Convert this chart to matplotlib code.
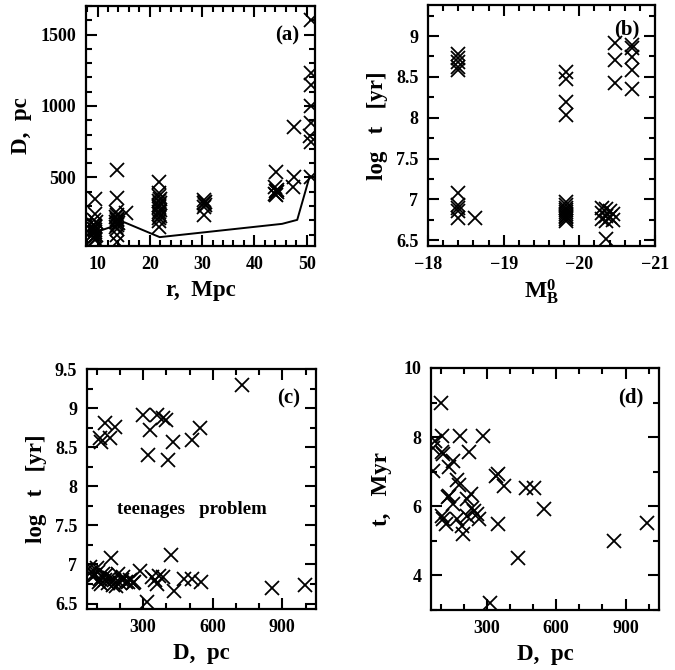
import matplotlib
matplotlib.use("Agg")
import matplotlib.pyplot as plt
from matplotlib.ticker import MultipleLocator

# ---------------- data ----------------
# (a) D [pc] vs r [Mpc]
a_r = [9.5, 9.5, 9.4, 9.7, 9.3, 9.6, 9.5, 9.4, 9.6, 9.5, 9.3, 9.7, 9.5, 9.4, 9.6, 9.5,
       13.7, 13.7, 13.6, 13.8, 13.6, 13.8, 13.7, 13.5, 13.9, 13.7, 13.6, 13.8, 13.7, 13.7,
       15.5,
       21.8, 21.8, 21.7, 21.9, 21.7, 21.9, 21.8, 21.7, 21.9, 21.8, 21.7, 21.9, 21.8, 21.8, 21.8,
       30.4, 30.5, 30.3, 30.5, 30.4, 30.4,
       44.2, 44.0, 44.3, 44.1, 44.3, 44.0, 44.2,
       47.5, 47.6, 47.4,
       50.8, 50.8, 50.8, 50.8, 50.8, 50.7, 50.9, 50.8]
a_D = [350, 245, 200, 185, 170, 160, 150, 140, 130, 120, 110, 100, 90, 80, 70, 60,
       550, 355, 260, 240, 225, 210, 200, 190, 180, 170, 155, 140, 100, 50,
       250,
       465, 390, 370, 350, 335, 320, 305, 290, 275, 260, 245, 230, 215, 195, 150,
       345, 330, 320, 305, 290, 240,
       540, 430, 415, 405, 395, 385, 375,
       850, 500, 430,
       1600, 1230, 1150, 1000, 880, 790, 750, 500]
a_line_r = [8.1, 15.2, 21.9, 45.3, 48.2, 50.6]
a_line_D = [98, 185, 82, 175, 203, 510]

# (b) log t vs M_B^0
b_M = [-18.4, -18.4, -18.4, -18.4, -18.4, -18.4, -18.4, -18.4, -18.4, -18.4, -18.62,
       -19.83, -19.83, -19.83, -19.83, -19.83, -19.83, -19.83, -19.83, -19.83, -19.83,
       -19.83, -19.83, -19.83, -19.83,
       -20.3, -20.35, -20.4, -20.3, -20.45, -20.35, -20.4, -20.3, -20.45, -20.35, -20.35,
       -20.47, -20.47, -20.47, -20.7, -20.7, -20.7, -20.7, -20.7]
b_logt = [8.78, 8.73, 8.68, 8.62, 8.58, 7.08, 6.93, 6.90, 6.86, 6.77, 6.77,
          8.56, 8.47, 8.19, 8.03, 6.97, 6.93, 6.90, 6.87, 6.85, 6.82, 6.80, 6.78, 6.76, 6.73,
          6.90, 6.88, 6.86, 6.83, 6.82, 6.80, 6.78, 6.76, 6.75, 6.73, 6.52,
          8.92, 8.71, 8.42, 8.89, 8.85, 8.74, 8.58, 8.35]

# (c) log t vs D
c_D = [113, 120, 135, 156, 178, 300, 358, 329, 322, 386, 400, 408, 430, 509, 545, 724,
       73, 76, 80, 92, 100, 105, 110, 115, 120, 128, 135, 140, 150, 155, 160, 170, 175,
       185, 190, 200, 210, 215, 225, 235, 245, 255, 262, 286, 317, 340, 350, 358, 370,
       385, 422, 432, 476, 511, 548, 854, 998]
c_logt = [8.62, 8.57, 8.81, 8.62, 8.76, 8.91, 8.91, 8.72, 8.40, 8.87, 8.85, 8.34, 8.57,
          8.59, 8.74, 9.30,
          6.97, 6.90, 6.85, 6.87, 6.95, 6.90, 6.78, 6.82, 6.75, 6.88, 6.80, 6.86, 6.76,
          6.83, 7.08, 6.74, 6.80, 6.72, 6.88, 6.76, 6.80, 6.84, 6.78, 6.77, 6.80, 6.76,
          6.78, 6.92, 6.52, 6.84, 6.80, 6.75, 6.85, 6.84, 7.12, 6.66, 6.81, 6.81, 6.78,
          6.70, 6.74]

# (d) t [Myr] vs D
d_D = [100, 105, 184, 284, 77, 66, 105, 112, 224, 68, 134, 155, 170, 180, 340, 350,
       376, 469, 505, 548, 850, 993, 348, 436, 314, 130, 136, 155, 105, 112, 121, 170,
       198, 191, 215, 230, 236, 243, 257, 264, 215]
d_t = [9.0, 8.04, 8.04, 8.04, 7.9, 7.7, 7.56, 7.51, 7.56, 7.03, 7.13, 7.32, 6.75, 6.62,
       6.88, 6.93, 6.6, 6.52, 6.52, 5.91, 5.0, 5.52, 5.48, 4.5, 3.2, 6.26, 6.3, 6.06,
       5.73, 5.63, 5.5, 5.63, 5.2, 5.44, 6.2, 6.35, 5.96, 5.86, 5.77, 5.63, 5.73]

# ---------------- style ----------------
plt.rcParams['font.family'] = ['Liberation Serif', 'DejaVu Serif']
plt.rcParams['font.weight'] = 'bold'
plt.rcParams['mathtext.fontset'] = 'custom'
plt.rcParams['mathtext.rm'] = 'Liberation Serif:bold'
plt.rcParams['mathtext.bf'] = 'Liberation Serif:bold'
plt.rcParams['mathtext.it'] = 'Liberation Serif:bold'

W, H = 675, 670
fig = plt.figure(figsize=(W / 100, H / 100), dpi=100)

TICK_FS = 13
LAB_FS = 16.5

def add_axes(l, r, t, b):
    return fig.add_axes([l / W, 1 - b / H, (r - l) / W, (b - t) / H])

def style(ax, xmaj, xmin, ymaj, ymin):
    ax.xaxis.set_major_locator(MultipleLocator(xmaj))
    ax.xaxis.set_minor_locator(MultipleLocator(xmin))
    ax.yaxis.set_major_locator(MultipleLocator(ymaj))
    ax.yaxis.set_minor_locator(MultipleLocator(ymin))
    ax.tick_params(which='both', direction='in', top=True, right=True, width=1.5,
                   labelsize=TICK_FS, pad=7)
    ax.tick_params(which='major', length=8)
    ax.tick_params(which='minor', length=4)
    for s in ax.spines.values():
        s.set_linewidth(1.6)

def boldticks(ax):
    for lab in ax.get_xticklabels() + ax.get_yticklabels():
        lab.set_fontweight('bold')

mk = dict(marker='x', linestyle='none', color='black', markersize=10, markeredgewidth=1.3)

# (a)
ax = add_axes(86, 315, 6, 246)
ax.plot(a_r, a_D, **mk)
ax.plot(a_line_r, a_line_D, color='black', linewidth=1.4)
ax.set_xlim(7.8, 51.6)
ax.set_ylim(20, 1700)
style(ax, 10, 2, 500, 100)
boldticks(ax)
ax.set_xlabel('r,  Mpc', fontsize=LAB_FS, fontweight='bold', labelpad=5)
ax.set_ylabel('D,  pc', fontsize=LAB_FS, fontweight='bold', labelpad=6)
ax.text(0.93, 0.92, '(a)', transform=ax.transAxes, ha='right', va='top',
        fontsize=15, fontweight='bold')

# (b)
ax = add_axes(428, 655, 5, 246)
ax.plot(b_M, b_logt, **mk)
ax.set_xlim(-18, -21)
ax.set_ylim(6.43, 9.38)
style(ax, 1, 0.2, 0.5, 0.25)
ax.set_xticks([-18, -19, -20, -21])
ax.set_xticklabels(['\u221218', '\u221219', '\u221220', '\u221221'])
ax.set_yticks([6.5, 7, 7.5, 8, 8.5, 9])
ax.set_yticklabels(['6.5', '7', '7.5', '8', '8.5', '9'])
boldticks(ax)
ax.set_xlabel(r'$\mathrm{M_B^0}$', fontsize=17, labelpad=3)
ax.set_ylabel('log   t   [yr]', fontsize=LAB_FS, fontweight='bold', labelpad=6)
ax.text(0.93, 0.94, '(b)', transform=ax.transAxes, ha='right', va='top',
        fontsize=15, fontweight='bold')

# (c)
ax = add_axes(87, 316, 369, 609)
ax.plot(c_D, c_logt, **mk)
ax.set_xlim(58, 1045)
ax.set_ylim(6.43, 9.5)
style(ax, 300, 100, 0.5, 0.25)
ax.set_yticks([6.5, 7, 7.5, 8, 8.5, 9, 9.5])
ax.set_yticklabels(['6.5', '7', '7.5', '8', '8.5', '9', '9.5'])
boldticks(ax)
ax.set_xlabel('D,  pc', fontsize=LAB_FS, fontweight='bold', labelpad=5)
ax.set_ylabel('log   t   [yr]', fontsize=LAB_FS, fontweight='bold', labelpad=6)
ax.text(0.93, 0.92, '(c)', transform=ax.transAxes, ha='right', va='top',
        fontsize=15, fontweight='bold')
ax.text(510, 7.7, 'teenages   problem', ha='center', va='center',
        fontsize=13.5, fontweight='bold')

# (d)
ax = add_axes(431, 659, 368, 610)
ax.plot(d_D, d_t, **mk)
ax.set_xlim(58, 1045)
ax.set_ylim(3.0, 10)
style(ax, 300, 100, 2, 1)
boldticks(ax)
ax.set_xlabel('D,  pc', fontsize=LAB_FS, fontweight='bold', labelpad=5)
ax.set_ylabel('t,   Myr', fontsize=LAB_FS, fontweight='bold', labelpad=8)
ax.text(0.93, 0.92, '(d)', transform=ax.transAxes, ha='right', va='top',
        fontsize=15, fontweight='bold')

fig.savefig('out.png', dpi=100)
